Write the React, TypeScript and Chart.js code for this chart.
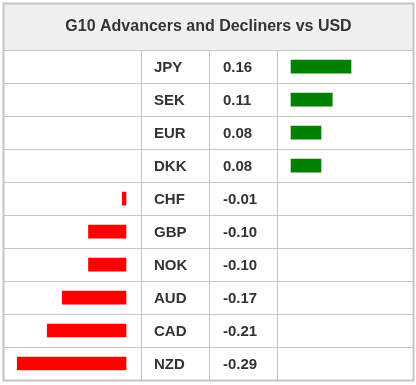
import React, { useEffect, useRef } from "react";
import { Chart, registerables } from "chart.js";

Chart.register(...registerables);

const chartTitle = "G10 Advancers and Decliners vs USD";
const currencies = ["JPY", "SEK", "EUR", "DKK", "CHF", "GBP", "NOK", "AUD", "CAD", "NZD"];
const changes = [0.16, 0.11, 0.08, 0.08, -0.01, -0.1, -0.1, -0.17, -0.21, -0.29];
const valueLabels = ["0.16", "0.11", "0.08", "0.08", "-0.01", "-0.10", "-0.10", "-0.17", "-0.21", "-0.29"];

const W = 416;
const H = 385;
const PX_PER_UNIT = 375;
const PAD = { left: 4, right: 3, top: 3, bottom: 5 };
const AREA_W = W - PAD.left - PAD.right;
const POS_ZERO = 287; // offset from chart-area left
const NEG_ZERO = 122;

const FONT = "Arial, 'Liberation Sans', Helvetica, sans-serif";
const TEXT = "#333333";
const LINE = "#c6c6c6";

const tablePlugin = {
  id: "tableGrid",
  beforeDraw(chart: any) {
    const { ctx, chartArea } = chart;
    ctx.save();
    ctx.fillStyle = "#ffffff";
    ctx.fillRect(0, 0, W, H);
    const left = 3.5;
    const right = 413.5;
    const top = 3.5;
    const bottom = Math.round(chartArea.bottom) + 0.5;
    ctx.fillStyle = "#f1f0ee";
    ctx.fillRect(left, top, right - left, chartArea.top - top);
    ctx.strokeStyle = LINE;
    ctx.lineWidth = 1;
    const n = currencies.length;
    const band = (chartArea.bottom - chartArea.top) / n;
    ctx.beginPath();
    for (let i = 0; i <= n; i++) {
      const y = Math.round(chartArea.top + i * band) + 0.5;
      ctx.moveTo(left, y);
      ctx.lineTo(right, y);
    }
    [141, 209, 277].forEach((x) => {
      ctx.moveTo(x + 0.5, chartArea.top);
      ctx.lineTo(x + 0.5, bottom);
    });
    ctx.stroke();
    ctx.lineWidth = 2;
    ctx.strokeStyle = "#c4c4c4";
    ctx.strokeRect(left, top, right - left, bottom - top);
    ctx.restore();
  },
  afterDatasetsDraw(chart: any) {
    const { ctx } = chart;
    const yScale = chart.scales.y;
    ctx.save();
    ctx.fillStyle = TEXT;
    ctx.font = `bold 15px ${FONT}`;
    ctx.textBaseline = "middle";
    ctx.textAlign = "left";
    currencies.forEach((c, i) => {
      const y = yScale.getPixelForValue(i) + 1;
      ctx.fillText(c, 154, y);
      ctx.fillText(valueLabels[i], 223, y);
    });
    ctx.restore();
  },
};

export default function App() {
  const canvasRef = useRef<HTMLCanvasElement | null>(null);

  useEffect(() => {
    if (!canvasRef.current) return;
    const advancers = changes.map((v) => (v > 0 ? v : null));
    const decliners = changes.map((v) => (v < 0 ? v : null));
    const range = AREA_W / PX_PER_UNIT;
    const chart = new Chart(canvasRef.current, {
      type: "bar",
      data: {
        labels: currencies,
        datasets: [
          {
            label: "Advancers",
            data: advancers as any,
            backgroundColor: "#008000",
            xAxisID: "xPos",
            barThickness: 13,
            borderWidth: 0,
          },
          {
            label: "Decliners",
            data: decliners as any,
            backgroundColor: "#ff0000",
            xAxisID: "xNeg",
            barThickness: 13,
            borderWidth: 0,
          },
        ],
      },
      options: {
        indexAxis: "y",
        responsive: false,
        animation: false,
        devicePixelRatio: 1,
        layout: { padding: PAD },
        scales: {
          y: { type: "category", display: false, offset: true, stacked: true },
          xPos: {
            type: "linear",
            display: false,
            min: -POS_ZERO / PX_PER_UNIT,
            max: range - POS_ZERO / PX_PER_UNIT,
          },
          xNeg: {
            type: "linear",
            display: false,
            min: -NEG_ZERO / PX_PER_UNIT,
            max: range - NEG_ZERO / PX_PER_UNIT,
          },
        },
        plugins: {
          legend: { display: false },
          tooltip: { enabled: false },
          title: {
            display: true,
            text: chartTitle,
            color: TEXT,
            font: { family: FONT, size: 16, weight: "bold", lineHeight: 1.2 },
            padding: { top: 14, bottom: 14 },
          },
        },
      } as any,
      plugins: [tablePlugin],
    });
    return () => chart.destroy();
  }, []);

  return (
    <div style={{ position: "absolute", left: 0, top: 0, width: W, height: H, background: "#fff" }}>
      <canvas ref={canvasRef} width={W} height={H} style={{ display: "block" }} />
    </div>
  );
}
